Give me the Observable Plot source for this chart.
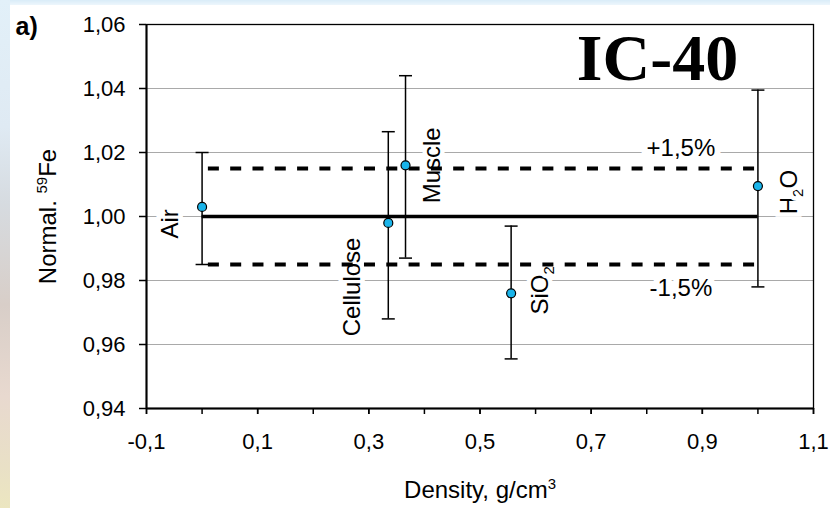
<!DOCTYPE html>
<html><head><meta charset="utf-8">
<script src="https://cdn.jsdelivr.net/npm/d3@7"></script>
<script src="https://cdn.jsdelivr.net/npm/@observablehq/plot@0.6"></script>
<style>
html,body{margin:0;padding:0;background:#fff;}
#wrap{position:relative;width:830px;height:508px;overflow:hidden;}
#topband{position:absolute;left:0;top:0;width:830px;height:5px;background:linear-gradient(#d9ecf8,#edf6fc);}
#leftband{position:absolute;left:0;top:0;width:10px;height:508px;
 background:linear-gradient(#e2f0f9 0%,#dfeaf3 25%,#d6dbe0 40%,#d8cec8 60%,#e8d9cf 78%,#e9e0c6 92%,#ece6c0 100%);}
</style></head><body><div id="wrap"></div>
<script>
// ---- data ----
const materials = ["Air", "Cellulose", "Muscle", "SiO2", "H2O"];
const density   = [0.0, 0.335, 0.366, 0.556, 1.0];
const normFe    = [1.003, 0.998, 1.016, 0.976, 1.0095];
const errLow    = [0.985, 0.968, 0.987, 0.9555, 0.978];
const errHigh   = [1.020, 1.0265, 1.044, 0.997, 1.0395];
const refCenter = 1.0;
const refTol    = 0.015;
const refLabels = ["+1,5%", "-1,5%"];
const yTicks      = [0.94, 0.96, 0.98, 1.00, 1.02, 1.04, 1.06];
const xMinorTicks = [-0.1, 0, 0.1, 0.2, 0.3, 0.4, 0.5, 0.6, 0.7, 0.8, 0.9, 1.0, 1.1];
const xTickLabels = [-0.1, 0.1, 0.3, 0.5, 0.7, 0.9, 1.1];
const titleText = "IC-40";
const panelText = "a)";
const xLabel = "Density, g/cm3";
const yLabel = "Normal. 59Fe";

// ---- styles ----
const labelOffset = {Air: [-32, 17], Cellulose: [-36, 64], Muscle: [27, 0], SiO2: [29, -3], H2O: [31, 6]};
const font = "Liberation Sans, Arial, sans-serif";
const dotColor = "#1ab4ea";

const rows = materials.map((m, i) => ({name: m, x: density[i], y: normFe[i], lo: errLow[i], hi: errHigh[i]}));
const xStart = d3.min(density), xEnd = d3.max(density);
const loc = d3.formatLocale({decimal: ",", thousands: ".", grouping: [3], currency: ["", ""], minus: "-"});
const yFmt = loc.format(".2f"), xFmt = loc.format(".1f");
const cap = {draw(ctx) { ctx.moveTo(-6.5, 0); ctx.lineTo(6.5, 0); }};
const halo = {stroke: "white", strokeWidth: 9, paintOrder: "stroke", strokeLinejoin: "miter", fill: "black"};

const labelMarks = rows.map(r => Plot.text([r], {
  x: "x", y: "y", text: "name", rotate: -90, textAnchor: "middle", lineAnchor: "middle",
  dx: labelOffset[r.name][0], dy: labelOffset[r.name][1], fontSize: 24, ...halo
}));

const pct = [{t: refLabels[0], y: refCenter + refTol, dy: -20}, {t: refLabels[1], y: refCenter - refTol, dy: 24}];

const plot = Plot.plot({
  width: 830, height: 508,
  marginLeft: 146, marginRight: 17, marginTop: 24, marginBottom: 100,
  style: {background: "transparent", fontFamily: font, fontSize: "22px", color: "black", overflow: "visible"},
  x: {domain: [-0.1, 1.1]},
  y: {domain: [0.94, 1.06]},
  marks: [
    Plot.ruleY(yTicks, {stroke: "#a9a9a9", strokeWidth: 1}),
    ...labelMarks,
    ...pct.map(p => Plot.text([p], {x: xEnd, y: "y", text: "t", dx: -77, dy: p.dy, fontSize: 24, textAnchor: "middle", lineAnchor: "middle", ...halo, strokeWidth: 12})),
    Plot.ruleY([refCenter], {x1: xStart, x2: xEnd, stroke: "black", strokeWidth: 3.5}),
    Plot.ruleY([refCenter + refTol, refCenter - refTol], {x1: xStart, x2: xEnd, stroke: "black", strokeWidth: 4, strokeDasharray: "11,11.3", strokeDashoffset: 16}),
    Plot.ruleX(rows, {x: "x", y1: "lo", y2: "hi", stroke: "black", strokeWidth: 1.5}),
    Plot.dot(rows, {x: "x", y: "lo", symbol: cap, r: 5, fill: "none", stroke: "black", strokeWidth: 1.5}),
    Plot.dot(rows, {x: "x", y: "hi", symbol: cap, r: 5, fill: "none", stroke: "black", strokeWidth: 1.5}),
    Plot.dot(rows, {x: "x", y: "y", r: 4.5, fill: dotColor, stroke: "black", strokeWidth: 1.2}),
    Plot.frame({stroke: "black", strokeWidth: 1.3}),
    Plot.ruleX([-0.1], {stroke: "black", strokeWidth: 2}),
    Plot.ruleY([0.94], {stroke: "black", strokeWidth: 2}),
    Plot.axisY({ticks: yTicks, tickFormat: yFmt, tickSize: 7, tickPadding: 14, fontSize: 22, label: null, strokeWidth: 1.5}),
    Plot.axisX({ticks: xMinorTicks, tickFormat: () => "", tickSize: 6, label: null, strokeWidth: 1.5}),
    Plot.axisX({ticks: xTickLabels, tickFormat: xFmt, tickSize: 6, tickPadding: 19, fontSize: 22, label: null, strokeWidth: 1.5}),
    Plot.text([yLabel], {text: d => d, frameAnchor: "left", rotate: -90, dx: -98, fontSize: 24, textAnchor: "middle", lineAnchor: "middle"}),
    Plot.text([xLabel], {text: d => d, frameAnchor: "bottom", dy: 82, fontSize: 24, textAnchor: "middle", lineAnchor: "middle"}),
    Plot.text([titleText], {text: d => d, frameAnchor: "top-right", dx: -156, dy: 34, fontSize: 66, fontWeight: "bold", fontFamily: "Liberation Serif, Times New Roman, serif", textAnchor: "middle", lineAnchor: "middle"}),
    Plot.text([panelText], {text: d => d, frameAnchor: "top-left", dx: -131, dy: 2, fontSize: 25, fontWeight: "bold", textAnchor: "start", lineAnchor: "middle"})
  ]
});

// sub/superscripts
const rich = {
  "H2O": [["H", 0], ["2", 1], ["O", 0]],
  "SiO2": [["SiO", 0], ["2", 1]],
  "Density, g/cm3": [["Density, g/cm", 0], ["3", -1]],
  "Normal. 59Fe": [["Normal. ", 0], ["59", -1], ["Fe", 0]]
};
d3.select(plot).selectAll("text").each(function() {
  const parts = rich[this.textContent];
  if (!parts) return;
  const fs = parseFloat(getComputedStyle(this).fontSize) || 22;
  this.textContent = "";
  let shift = 0;
  for (const [t, kind] of parts) {
    const target = kind === 1 ? fs * 0.28 : kind === -1 ? -fs * 0.42 : 0;
    const ts = d3.select(this).append("tspan").text(t).attr("dy", target - shift);
    if (kind !== 0) ts.attr("font-size", fs * 0.68);
    shift = target;
  }
});

const wrap = document.getElementById("wrap");
wrap.appendChild(plot);
const tb = document.createElement("div"); tb.id = "topband"; wrap.appendChild(tb);
const lb = document.createElement("div"); lb.id = "leftband"; wrap.appendChild(lb);
plot.style.position = "absolute"; plot.style.left = "0"; plot.style.top = "0";
</script>
</body></html>
